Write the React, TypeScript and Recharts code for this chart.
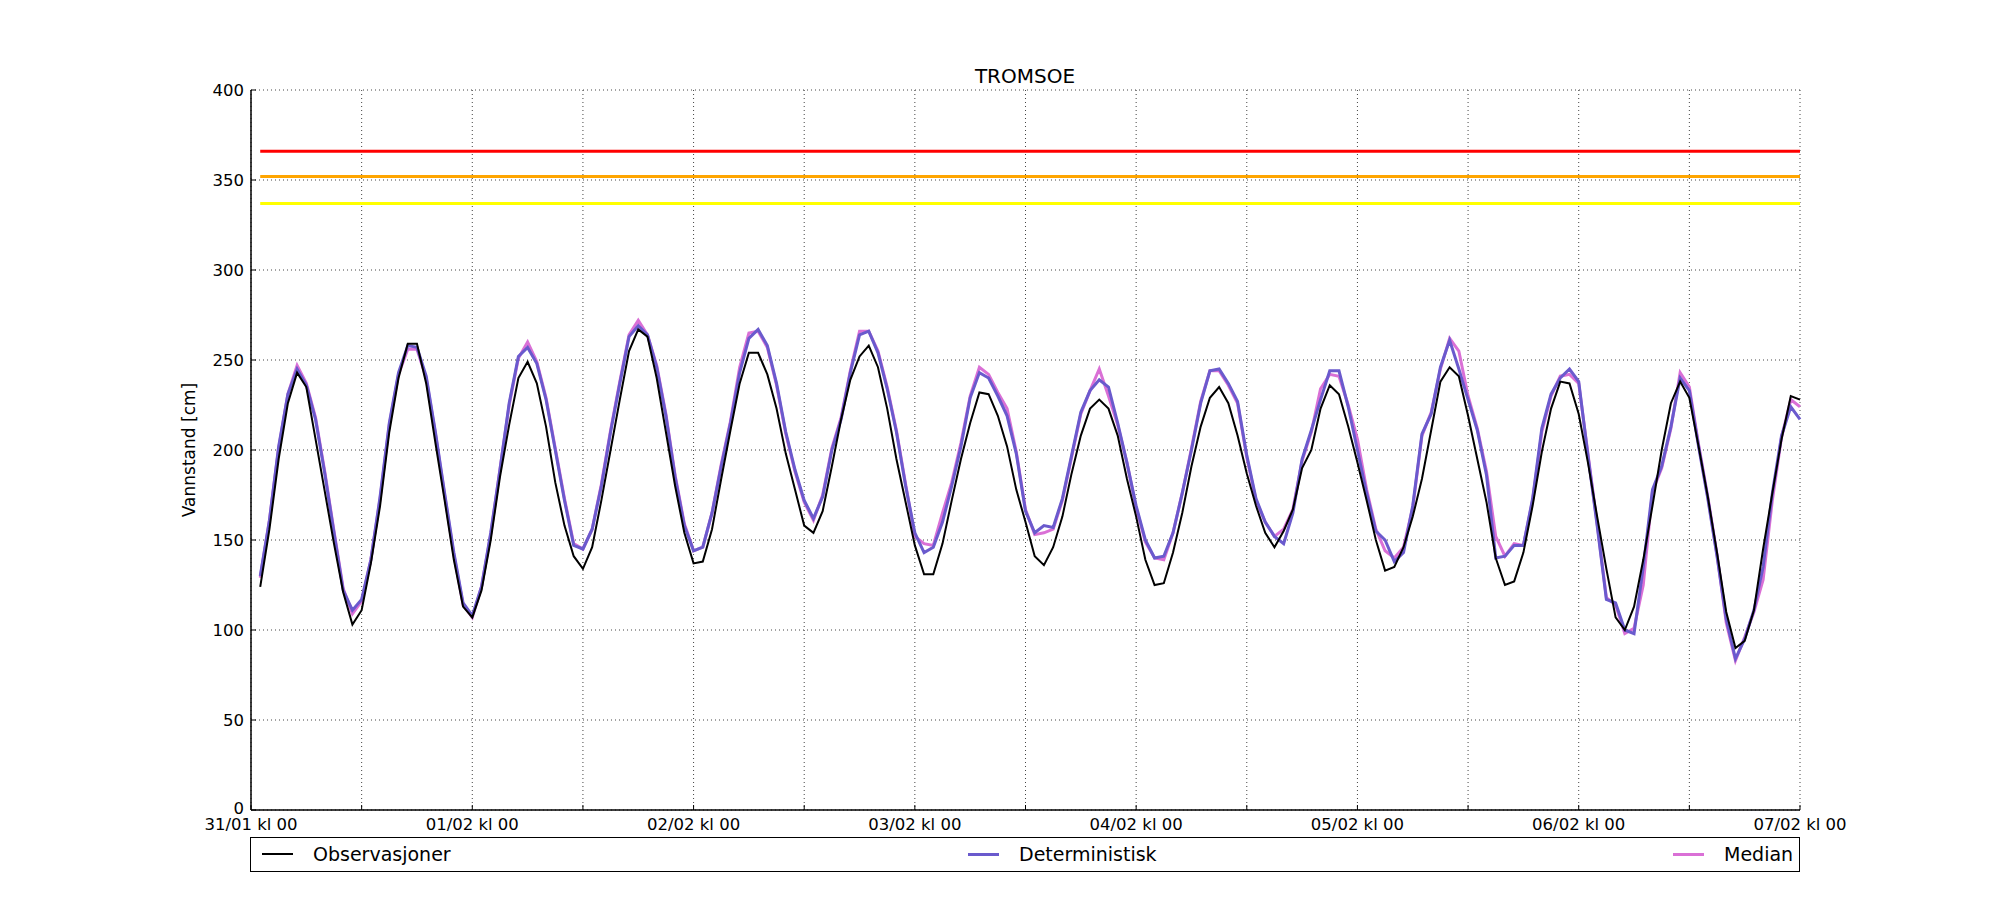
import React from "react"
import { CartesianGrid, Label, Line, LineChart, ReferenceLine, XAxis, YAxis } from "recharts"

// hourly water level, 31/01 kl 01 .. 07/02 kl 00
const observasjoner = [
  124, 156, 195, 226, 243, 235, 206, 177, 148, 121, 103, 111, 137, 169, 210, 240, 259, 259, 237, 204, 172, 139, 113, 107,
  122, 150, 185, 214, 240, 249, 237, 213, 182, 158, 141, 134, 146, 172, 200, 228, 255, 267, 263, 240, 210, 180, 154, 137,
  138, 156, 184, 211, 237, 254, 254, 242, 223, 198, 178, 158, 154, 166, 191, 217, 239, 252, 258, 246, 223, 195, 171, 147,
  131, 131, 148, 172, 195, 215, 232, 231, 219, 202, 178, 160, 141, 136, 146, 163, 187, 208, 223, 228, 223, 208, 184, 163,
  139, 125, 126, 143, 165, 191, 213, 229, 235, 226, 208, 187, 169, 154, 146, 155, 167, 190, 200, 223, 236, 231, 213, 193,
  172, 150, 133, 135, 146, 163, 184, 211, 238, 246, 241, 219, 195, 171, 140, 125, 127, 143, 169, 199, 223, 238, 237, 220,
  193, 163, 134, 107, 100, 113, 139, 169, 200, 226, 238, 229, 202, 174, 143, 110, 90, 94, 111, 145, 176, 206, 230, 228,
]

const deterministisk = [
  130, 161, 202, 231, 245, 236, 217, 187, 154, 122, 111, 117, 139, 174, 215, 243, 258, 257, 241, 210, 176, 143, 115, 108,
  124, 154, 189, 226, 252, 257, 248, 228, 200, 172, 147, 145, 156, 180, 210, 237, 263, 269, 264, 246, 219, 185, 158, 144,
  146, 165, 191, 215, 243, 262, 267, 258, 237, 210, 189, 172, 162, 174, 200, 217, 243, 264, 266, 254, 234, 210, 180, 154,
  143, 146, 160, 180, 202, 229, 243, 240, 230, 219, 198, 166, 154, 158, 157, 173, 197, 221, 233, 239, 235, 215, 193, 169,
  150, 140, 141, 154, 176, 200, 226, 244, 245, 237, 227, 197, 173, 160, 152, 148, 165, 195, 211, 228, 244, 244, 224, 200,
  176, 155, 150, 138, 143, 169, 209, 220, 246, 261, 245, 228, 211, 186, 140, 141, 147, 147, 173, 212, 231, 240, 245, 238,
  197, 158, 117, 115, 100, 98, 135, 178, 191, 213, 240, 233, 202, 173, 141, 106, 84, 95, 111, 135, 176, 208, 224, 217,
]

const median = [
  129, 161, 201, 231, 247, 237, 218, 188, 155, 123, 109, 116, 139, 173, 214, 242, 256, 256, 240, 209, 175, 142, 114, 107,
  124, 153, 189, 225, 251, 260, 249, 229, 201, 173, 148, 145, 156, 181, 211, 238, 264, 272, 264, 247, 220, 186, 159, 144,
  146, 165, 192, 216, 246, 265, 266, 257, 236, 209, 188, 171, 161, 175, 201, 218, 244, 266, 266, 255, 235, 211, 181, 152,
  148, 147, 165, 182, 204, 230, 246, 242, 232, 223, 199, 167, 153, 154, 156, 172, 196, 220, 233, 245, 230, 214, 193, 168,
  149, 140, 139, 154, 176, 201, 227, 244, 244, 236, 226, 196, 172, 160, 152, 156, 167, 194, 210, 234, 242, 241, 225, 206,
  178, 156, 144, 140, 146, 168, 208, 221, 245, 262, 255, 230, 212, 188, 152, 141, 148, 147, 172, 210, 230, 241, 242, 237,
  198, 159, 118, 114, 98, 101, 125, 177, 190, 212, 243, 235, 203, 174, 142, 104, 83, 96, 110, 128, 172, 207, 228, 224,
]

const hours = observasjoner.map((_, i) => i + 1)

const varselGrenser = [
  { value: 366, color: "#ff0000" },
  { value: 352, color: "#ffa500" },
  { value: 337, color: "#ffff00" },
]

const xTicks = [0, 12, 24, 36, 48, 60, 72, 84, 96, 108, 120, 132, 144, 156, 168]
const dayLabels = ["31/01 kl 00", "01/02 kl 00", "02/02 kl 00", "03/02 kl 00", "04/02 kl 00", "05/02 kl 00", "06/02 kl 00", "07/02 kl 00"]
const yTicks = [0, 50, 100, 150, 200, 250, 300, 350, 400]

const data = hours.map((h, i) => ({
  h,
  obs: observasjoner[i],
  det: deterministisk[i],
  med: median[i],
}))

const FONT = "'DejaVu Sans', sans-serif"

const BottomTick = (props: any) => {
  const { x, y, payload } = props
  const v = payload.value
  return (
    <g>
      <line x1={x} y1={y} x2={x} y2={y - 5} stroke="#000" />
      {v % 24 === 0 && (
        <text x={x} y={y + 20} textAnchor="middle" fontSize={16.5} fontFamily={FONT} fill="#000">
          {dayLabels[v / 24]}
        </text>
      )}
    </g>
  )
}

const TopTick = (props: any) => <line x1={props.x} y1={props.y} x2={props.x} y2={props.y + 5} stroke="#000" />

const LeftTick = (props: any) => {
  const { x, y, payload } = props
  return (
    <g>
      <line x1={x} y1={y} x2={x + 5} y2={y} stroke="#000" />
      <text x={x - 7} y={payload.value === 0 ? y - 2 : y} dy="0.36em" textAnchor="end" fontSize={16.5} fontFamily={FONT} fill="#000">
        {payload.value}
      </text>
    </g>
  )
}

const RightTick = (props: any) => <line x1={props.x} y1={props.y} x2={props.x - 5} y2={props.y} stroke="#000" />

const legendItems = [
  { name: "Observasjoner", color: "#000000", width: 2, left: 11 },
  { name: "Deterministisk", color: "#6a5acd", width: 3, left: 717 },
  { name: "Median", color: "#da70d6", width: 3, left: 1422 },
]

export default function App() {
  return (
    <div style={{ position: "relative", width: 1984, height: 884, fontFamily: FONT, background: "#fff" }}>
      <div
        style={{
          position: "absolute",
          left: 242,
          top: 57,
          width: 1550,
          textAlign: "center",
          fontSize: 20,
          lineHeight: "22px",
          color: "#000",
        }}
      >
        TROMSOE
      </div>
      <LineChart width={1984} height={884} data={data} margin={{ top: 82, right: 192, bottom: 52, left: 0 }}>
        <CartesianGrid stroke="#444" strokeDasharray="1 3" strokeWidth={1} />
        <XAxis
          dataKey="h"
          type="number"
          domain={[0, 168]}
          ticks={xTicks}
          interval={0}
          height={30}
          tickSize={0}
          tickMargin={0}
          tickLine={false}
          axisLine={{ stroke: "#000", strokeWidth: 1.5 }}
          tick={BottomTick}
        />
        <XAxis
          xAxisId="top"
          orientation="top"
          dataKey="h"
          type="number"
          domain={[0, 168]}
          ticks={xTicks}
          interval={0}
          height={0}
          tickSize={0}
          tickMargin={0}
          tickLine={false}
          axisLine={{ stroke: "#000", strokeWidth: 1.5 }}
          tick={TopTick}
        />
        <YAxis
          type="number"
          domain={[0, 400]}
          ticks={yTicks}
          interval={0}
          width={243}
          tickSize={0}
          tickMargin={0}
          tickLine={false}
          axisLine={{ stroke: "#000", strokeWidth: 1.5 }}
          tick={LeftTick}
        >
          <Label
            content={() => (
              <text
                x={187}
                y={442}
                transform="rotate(-90 187 442)"
                textAnchor="middle"
                fontSize={17}
                fontFamily={FONT}
                fill="#000"
              >
                Vannstand [cm]
              </text>
            )}
          />
        </YAxis>
        <YAxis
          yAxisId="right"
          orientation="right"
          type="number"
          domain={[0, 400]}
          ticks={yTicks}
          interval={0}
          width={0}
          tickSize={0}
          tickMargin={0}
          tickLine={false}
          axisLine={{ stroke: "#000", strokeWidth: 1.5 }}
          tick={RightTick}
        />
        {varselGrenser.map((g) => (
          <ReferenceLine
            key={g.value}
            segment={[
              { x: hours[0], y: g.value },
              { x: hours[hours.length - 1], y: g.value },
            ]}
            stroke={g.color}
            strokeWidth={3}
          />
        ))}
        <Line type="linear" dataKey="med" stroke="#da70d6" strokeWidth={3} dot={false} isAnimationActive={false} />
        <Line type="linear" dataKey="det" stroke="#6a5acd" strokeWidth={3} dot={false} isAnimationActive={false} />
        <Line type="linear" dataKey="obs" stroke="#000000" strokeWidth={2} dot={false} isAnimationActive={false} />
      </LineChart>
      <div
        style={{
          position: "absolute",
          left: 242,
          top: 829,
          width: 1550,
          height: 35,
          boxSizing: "border-box",
          border: "1.5px solid #000",
          background: "#fff",
        }}
      >
        {legendItems.map((it) => (
          <div key={it.name} style={{ position: "absolute", left: it.left, top: 0, height: 32, display: "flex", alignItems: "center" }}>
            <div style={{ width: 31, height: it.width, background: it.color }} />
            <span style={{ marginLeft: 20, fontSize: 19, color: "#000" }}>{it.name}</span>
          </div>
        ))}
      </div>
    </div>
  )
}
